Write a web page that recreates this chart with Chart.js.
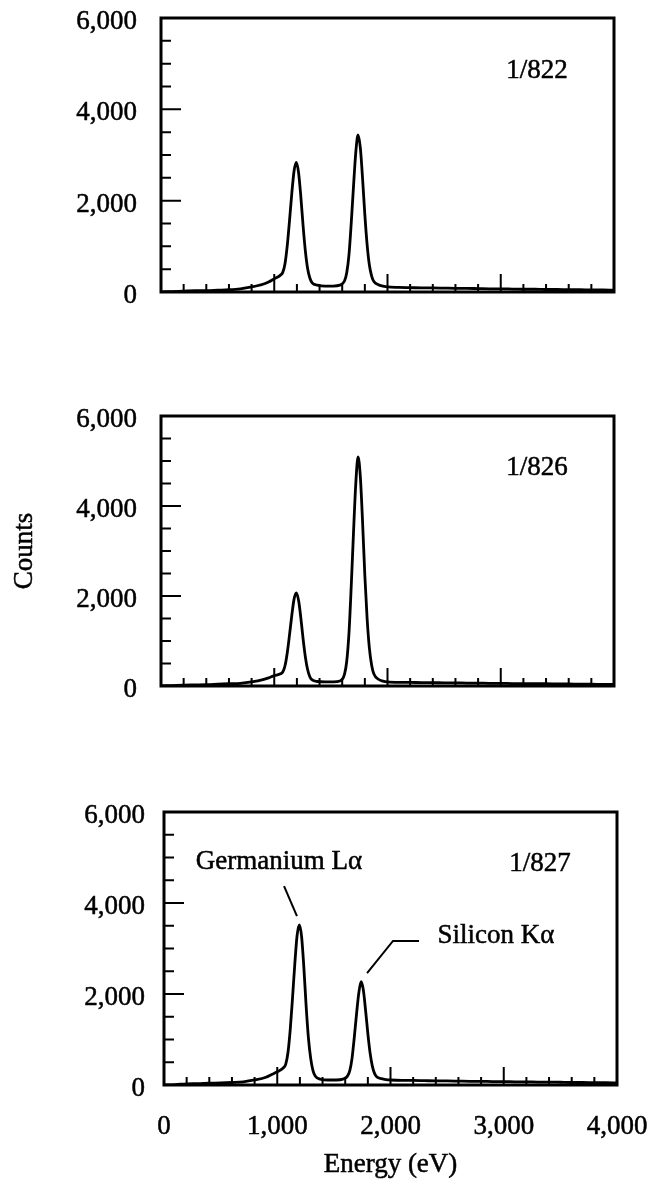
<!DOCTYPE html>
<html>
<head>
<meta charset="utf-8">
<script src="https://cdn.jsdelivr.net/npm/chart.js@4.4.0/dist/chart.umd.min.js"></script>
<style>
    body {
        margin: 0;
        background-color: #fff;
    }

    #page {
        position: relative;
        width: 658px;
        height: 1191px;
        overflow: hidden;
    }

    canvas {
        position: absolute;
        left: 0;
    }
</style>
</head>
<body>
<div id="page">
    <canvas id="chart822"></canvas>
    <canvas id="chart826"></canvas>
    <canvas id="chart827"></canvas>
</div>
<script>
// Energy grid (eV), finer around the two peaks
const energies = [
    0, 100, 200, 300, 400, 500, 600, 700, 800, 900, 950, 1000,
    1055, 1075, 1095, 1115, 1135, 1155, 1175, 1195, 1215, 1235, 1255, 1275, 1295, 1315, 1335,
    1380, 1450, 1520, 1580,
    1620, 1640, 1660, 1680, 1700, 1720, 1740, 1760, 1780, 1800, 1820, 1840, 1860, 1880,
    1920, 1960, 2000,
    2100, 2200, 2300, 2400, 2500, 2600, 2700, 2800, 2900, 3000,
    3100, 3200, 3300, 3400, 3500, 3600, 3700, 3800, 3900, 4000
]

const counts822 = [
    0, 10, 20, 30, 30, 40, 50, 70, 110, 170, 220, 290,
    370, 430, 620, 1020, 1570, 2160, 2650, 2840, 2610, 2080, 1440, 890, 510, 300, 200,
    150, 130, 130, 150,
    240, 420, 820, 1520, 2320, 3060, 3440, 3160, 2480, 1690, 1040, 590, 350, 230,
    160, 130, 110,
    100, 95, 90, 90, 85, 80, 80, 75, 70, 70,
    65, 60, 60, 55, 55, 50, 50, 45, 45, 40
]

const counts826 = [
    0, 10, 20, 25, 30, 40, 50, 60, 90, 140, 180, 230,
    270, 310, 450, 740, 1140, 1570, 1930, 2070, 1900, 1510, 1040, 640, 360, 200, 135,
    100, 90, 90, 110,
    260, 550, 1180, 2230, 3420, 4500, 5090, 4660, 3640, 2450, 1500, 840, 460, 265,
    150, 110, 90,
    80, 80, 75, 75, 70, 70, 65, 65, 60, 60,
    55, 55, 50, 50, 45, 45, 40, 40, 35, 35
]

const counts827 = [
    0, 10, 25, 30, 40, 45, 55, 70, 110, 170, 230, 290,
    380, 460, 720, 1230, 1920, 2660, 3280, 3520, 3260, 2580, 1740, 1040, 590, 320, 200,
    130, 110, 110, 130,
    195, 310, 580, 1040, 1560, 2020, 2270, 2090, 1640, 1130, 700, 410, 250, 175,
    140, 120, 110,
    100, 100, 95, 90, 90, 85, 80, 80, 75, 75,
    70, 70, 65, 65, 60, 55, 55, 50, 50, 45
]

const sampleNames = ['1/822', '1/826', '1/827']
const peakLabels = ['Germanium Lα', 'Silicon Kα']
const xTitle = 'Energy (eV)'
const yTitle = 'Counts'

const countTicks = [0, 2000, 4000, 6000]
const countMinorTicks = [500, 1000, 1500, 2500, 3000, 3500, 4500, 5000, 5500]
const energyTicks = [0, 1000, 2000, 3000, 4000]
const energyMinorTicks = [
    200, 400, 600, 800, 1200, 1400, 1600, 1800, 2200, 2400,
    2600, 2800, 3200, 3400, 3600, 3800
]

const serif = "'Liberation Serif', 'Times New Roman', serif"
const textFont = { family: serif, size: 27 }
const inkWidth = 0.5

Chart.defaults.font.family = serif
Chart.defaults.color = '#000'

/**
 * Draws the frame, the inward tick marks, the axis titles and the text inside each panel.
 */
const panelMarks = {
    id: 'panelMarks',
    afterDatasetsDraw(chart, args, opts) {
        const { ctx, chartArea: area } = chart
        const xScale = chart.scales.x
        const yScale = chart.scales.y
        const px = (e) => xScale.getPixelForValue(e)
        const py = (c) => yScale.getPixelForValue(c)

        ctx.save()
        ctx.strokeStyle = '#000'
        ctx.fillStyle = '#000'

        // tick marks pointing into the box
        ctx.lineWidth = 2
        ctx.beginPath()
        countMinorTicks.concat(countTicks).forEach((v) => {
            if (v <= 0 || v >= 6000) return
            const len = countTicks.includes(v) ? 20 : 10
            ctx.moveTo(area.left, py(v))
            ctx.lineTo(area.left + len, py(v))
        })
        energyMinorTicks.concat(energyTicks).forEach((v) => {
            if (v <= 0 || v >= 4000) return
            const len = energyTicks.includes(v) ? 18 : 8
            ctx.moveTo(px(v), area.bottom)
            ctx.lineTo(px(v), area.bottom - len)
        })
        ctx.stroke()

        // frame
        ctx.lineWidth = 3
        ctx.strokeRect(area.left, area.top, area.right - area.left, area.bottom - area.top)

        ctx.font = `${textFont.size}px ${serif}`
        ctx.textAlign = 'center'
        ctx.textBaseline = 'middle'

        const writeText = (text, x, y) => {
            ctx.lineWidth = inkWidth
            ctx.fillText(text, x, y)
            ctx.strokeText(text, x, y)
        }

        writeText(opts.name, px(3320), py(4850))

        if (opts.xTitle) {
            writeText(xTitle, (area.left + area.right) / 2, area.bottom + 80)
        }
        if (opts.yTitle) {
            ctx.save()
            ctx.translate(25, (area.top + area.bottom) / 2)
            ctx.rotate(-Math.PI / 2)
            writeText(yTitle, 0, 0)
            ctx.restore()
        }

        const notes = opts.notes || []
        notes.forEach((note) => {
            writeText(note.text, px(note.at[0]), py(note.at[1]))
            ctx.lineWidth = 2
            ctx.beginPath()
            note.leader.forEach((p, i) => {
                if (i === 0) {
                    ctx.moveTo(px(p[0]), py(p[1]))
                } else {
                    ctx.lineTo(px(p[0]), py(p[1]))
                }
            })
            ctx.stroke()
        })

        ctx.restore()
    }
}

const canvasWidth = 720

const panels = [
    {
        canvas: 'chart822', counts: counts822, name: sampleNames[0],
        top: -32, height: 374, padding: { top: 50, bottom: 50, right: canvasWidth - 614 },
        axisWidth: 161, labelGap: 24, bottomAxis: false, yTitle: false, notes: []
    },
    {
        canvas: 'chart826', counts: counts826, name: sampleNames[1],
        top: 366, height: 370, padding: { top: 50, bottom: 50, right: canvasWidth - 614 },
        axisWidth: 161, labelGap: 24, bottomAxis: false, yTitle: true, notes: []
    },
    {
        canvas: 'chart827', counts: counts827, name: sampleNames[2],
        top: 762, height: 429, padding: { top: 50, bottom: 0, right: canvasWidth - 617 },
        axisWidth: 164, labelGap: 19, bottomAxis: true, yTitle: false,
        notes: [
            { text: peakLabels[0], at: [1015, 4900], leader: [[1060, 4370], [1174, 3710]] },
            { text: peakLabels[1], at: [2932, 3275], leader: [[1793, 2460], [2022, 3165], [2252, 3165]] }
        ]
    }
]

panels.forEach((panel) => {
    const canvas = document.getElementById(panel.canvas)
    canvas.width = canvasWidth
    canvas.height = panel.height
    canvas.style.top = `${panel.top}px`

    new Chart(canvas, {
        type: 'line',
        data: {
            datasets: [{
                data: energies.map((e, i) => ({ x: e, y: panel.counts[i] })),
                borderColor: '#000',
                borderWidth: 2.8,
                pointRadius: 0,
                fill: false,
                cubicInterpolationMode: 'monotone'
            }]
        },
        options: {
            responsive: false,
            animation: false,
            events: [],
            layout: {
                padding: { left: 0, top: panel.padding.top, bottom: panel.padding.bottom, right: panel.padding.right }
            },
            plugins: {
                legend: { display: false },
                tooltip: { enabled: false },
                panelMarks: {
                    name: panel.name,
                    notes: panel.notes,
                    xTitle: panel.bottomAxis,
                    yTitle: panel.yTitle
                }
            },
            scales: {
                x: {
                    type: 'linear',
                    min: 0,
                    max: 4000,
                    grid: { display: false, drawTicks: false },
                    border: { display: false },
                    afterBuildTicks: (scale) => {
                        scale.ticks = energyTicks.map((v) => ({ value: v }))
                    },
                    afterFit: (scale) => {
                        scale.height = panel.bottomAxis ? 106 : 0
                    },
                    ticks: {
                        display: panel.bottomAxis,
                        font: textFont,
                        padding: 26,
                        maxRotation: 0,
                        textStrokeColor: '#000',
                        textStrokeWidth: inkWidth,
                        callback: (v) => v.toLocaleString('en-US')
                    }
                },
                y: {
                    min: 0,
                    max: 6000,
                    grid: { display: false, drawTicks: false },
                    border: { display: false },
                    afterBuildTicks: (scale) => {
                        scale.ticks = countTicks.map((v) => ({ value: v }))
                    },
                    afterFit: (scale) => {
                        scale.width = panel.axisWidth
                    },
                    ticks: {
                        font: textFont,
                        padding: panel.labelGap,
                        labelOffset: 4,
                        textStrokeColor: '#000',
                        textStrokeWidth: inkWidth,
                        callback: (v) => v.toLocaleString('en-US')
                    }
                }
            }
        },
        plugins: [panelMarks]
    })
})
</script>
</body>
</html>
